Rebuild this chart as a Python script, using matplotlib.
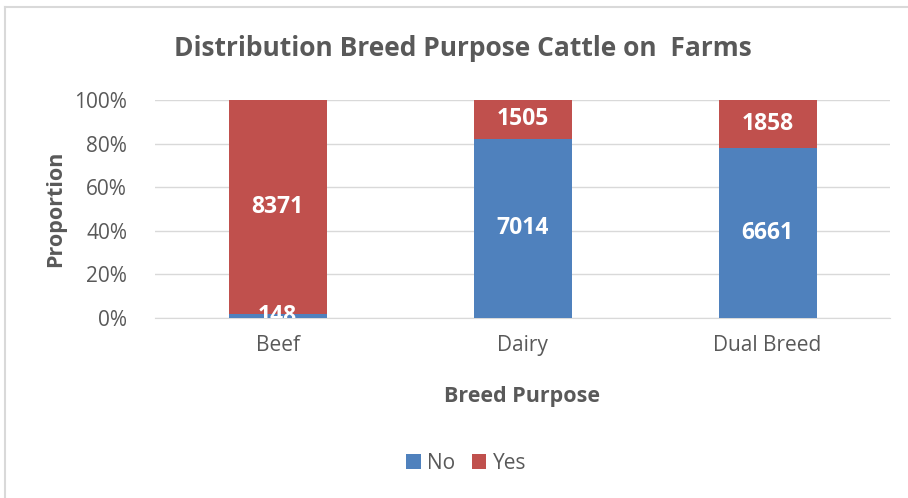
import matplotlib

matplotlib.use("Agg")
import matplotlib.pyplot as plt
from matplotlib.lines import Line2D
import numpy as np

plt.rcParams["font.family"] = ["Open Sans", "DejaVu Sans"]

categories = ["Beef", "Dairy", "Dual Breed"]
no_counts = np.array([148, 7014, 6661])
yes_counts = np.array([8371, 1505, 1858])
series_names = ["No", "Yes"]
colors = ["#4F81BD", "#C0504D"]

totals = no_counts + yes_counts
no_share = no_counts / totals * 100
yes_share = yes_counts / totals * 100

fig = plt.figure(figsize=(9.08, 4.98), dpi=100)
ax = fig.add_axes([155 / 908, 1 - 318 / 498, 735 / 908, 218 / 498])

x = np.arange(len(categories))
width = 0.4
ax.bar(x, no_share, width, color=colors[0], label=series_names[0], zorder=3)
ax.bar(x, yes_share, width, bottom=no_share, color=colors[1],
       label=series_names[1], zorder=3)

for i in range(len(categories)):
    ax.text(x[i], no_share[i] / 2, str(no_counts[i]), ha="center", va="center",
            color="white", fontsize=16.5, fontweight="bold", zorder=4, clip_on=True)
    ax.text(x[i], no_share[i] + yes_share[i] / 2, str(yes_counts[i]), ha="center",
            va="center", color="white", fontsize=16.5, fontweight="bold", zorder=4,
            clip_on=True)

ax.set_xlim(-0.5, len(categories) - 0.5)
ax.set_ylim(0, 100)
ax.set_yticks(np.arange(0, 101, 20))
ax.set_yticklabels([f"{v}%" for v in range(0, 101, 20)])
ax.set_xticks(x)
ax.set_xticklabels(categories)
ax.tick_params(axis="both", length=0, labelsize=15, colors="#595959")
ax.tick_params(axis="x", pad=12)
ax.tick_params(axis="y", pad=20)
ax.grid(axis="y", color="#D9D9D9", linewidth=1, zorder=0)
for side in ["left", "right", "top"]:
    ax.spines[side].set_visible(False)
ax.spines["bottom"].set_color("#D9D9D9")

ax.set_xlabel("Breed Purpose", fontsize=15.5, fontweight="bold", color="#595959",
              labelpad=22)
ax.set_ylabel("Proportion", fontsize=15.5, fontweight="bold", color="#595959",
              labelpad=6)

fig.text(463 / 908, 1 - 48 / 498, "Distribution Breed Purpose Cattle on  Farms",
         ha="center", va="center", fontsize=19, fontweight="bold", color="#595959")

ax.legend(loc="center", bbox_to_anchor=(466 / 908, 1 - 463 / 498),
          bbox_transform=fig.transFigure, ncol=2, frameon=False, fontsize=15,
          labelcolor="#595959", handlelength=0.7, handleheight=0.7,
          handletextpad=0.3, columnspacing=0.8)

# thin frame along the top and left edges
fig.add_artist(Line2D([5 / 908, 1], [1 - 7 / 498, 1 - 7 / 498], color="#D9D9D9",
                      linewidth=1.5, transform=fig.transFigure))
fig.add_artist(Line2D([5 / 908, 5 / 908], [0, 1 - 7 / 498], color="#D9D9D9",
                      linewidth=1.5, transform=fig.transFigure))

fig.savefig("out.png", dpi=100)
